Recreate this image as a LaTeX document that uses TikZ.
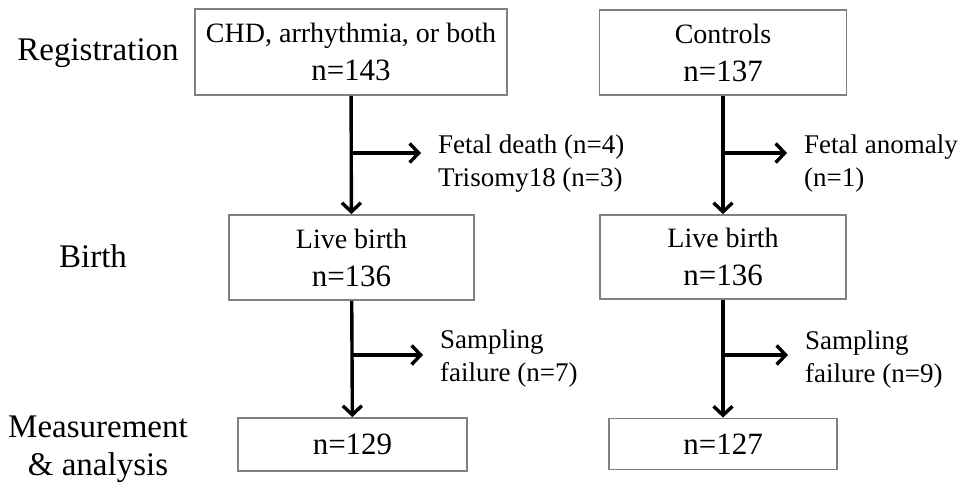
\documentclass[tikz,border=0pt]{standalone}
\usepackage{fontspec}
\setmainfont{Liberation Serif}
\usepackage{tikz}
\usetikzlibrary{arrows.meta,positioning}

\newcommand{\nval}[1]{{\fontsize{31}{38}\selectfont #1}}

\begin{document}
\begin{tikzpicture}[
    x=1pt, y=-1pt,
    box/.style={draw=black!50, line width=1.8pt, align=center, inner sep=0pt, font=\fontsize{28}{38}\selectfont},
    stage/.style={font=\fontsize{33}{38}\selectfont, align=center, inner sep=0pt},
    side/.style={font=\fontsize{27}{33}\selectfont, align=left, anchor=north west, inner sep=0pt},
    flow/.style={-{Straight Barb[length=9pt,width=19pt]}, line width=3.4pt},
    exit/.style={flow, shorten >=17pt}
]
    \useasboundingbox (0,0) rectangle (969,485);

    % === STAGES ===
    \node[stage, anchor=base] (regst) at (98,60) {Registration};
    \node[stage, anchor=base] (birst) at (93,267) {Birth};
    \node[stage, anchor=north] (meast) at (98,416) {Measurement\\\& analysis};

    % === CASES ===
    \node[box, minimum width=312pt, minimum height=86pt] (cases) at (351,52) {CHD, arrhythmia, or both\\\nval{n=143}};
    \node[box, minimum width=245pt, minimum height=85pt] (livecase) at (351.5,257.5) {Live birth\\\nval{n=136}};
    \node[box, minimum width=229pt, minimum height=53pt] (meascase) at (352.5,444.5) {\nval{n=129}};

    % === CONTROLS ===
    \node[box, minimum width=247pt, minimum height=85pt] (ctrl) at (723,52.5) {Controls\\\nval{n=137}};
    \node[box, minimum width=246pt, minimum height=84pt] (livectrl) at (723,257) {Live birth\\\nval{n=136}};
    \node[box, minimum width=228pt, minimum height=51pt] (measctrl) at (723,444) {\nval{n=127}};

    % === EXCLUSIONS ===
    \node[side] (lossA) at (438,135) {Fetal death (n=4)\\Trisomy18 (n=3)};
    \node[side] (lossB) at (804,135) {Fetal anomaly\\(n=1)};
    \node[side] (failA) at (440,330) {Sampling\\failure (n=7)};
    \node[side] (failB) at (805,331) {Sampling\\failure (n=9)};

    \coordinate (brA) at (351,153);
    \coordinate (brB) at (723,153);
    \coordinate (brC) at (351,355);
    \coordinate (brD) at (723,355);

    % === FLOW ===
    \draw[flow] (cases) -- (livecase);
    \draw[flow] (livecase) -- (meascase);
    \draw[flow] (ctrl) -- (livectrl);
    \draw[flow] (livectrl) -- (measctrl);

    \draw[exit] (brA) -- (brA -| lossA.west);
    \draw[exit] (brB) -- (brB -| lossB.west);
    \draw[exit] (brC) -- (brC -| failA.west);
    \draw[exit] (brD) -- (brD -| failB.west);

\end{tikzpicture}
\end{document}
